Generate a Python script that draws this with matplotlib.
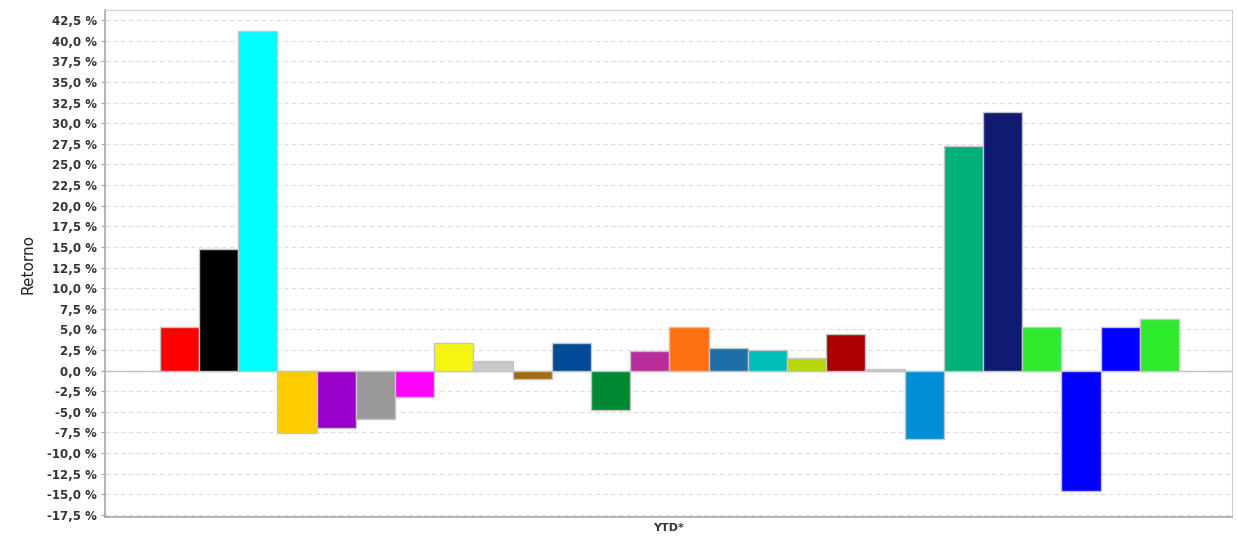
import numpy as np
import matplotlib.pyplot as plt
from matplotlib.ticker import FuncFormatter, MultipleLocator

# YTD returns (%) per fund, left to right
returns = [5.3, 14.8, 41.2, -7.6, -7.0, -5.9, -3.2, 3.3, 1.2, -1.0, 3.3, -4.8, 2.4,
           5.3, 2.7, 2.5, 1.5, 4.5, 0.2, -8.3, 27.2, 31.3, 5.3, -14.6, 5.3, 6.2]
colors = ["#ff0000", "#000000", "#00ffff", "#ffcc00", "#9900cc", "#999999", "#ff00ff",
          "#f5f511", "#c8c8c8", "#a86a10", "#004a99", "#008833", "#b82d99", "#ff7010",
          "#1e6fa8", "#00bfb8", "#b8d80a", "#aa0000", "#d0d0d0", "#008ed6", "#00b07a",
          "#0f1a73", "#2eeb2e", "#0000ff", "#0000ff", "#2eeb2e"]
category = "YTD*"

fig = plt.figure(figsize=(12.38, 5.36), dpi=100)
ax = fig.add_axes([0.0848, 0.0354, 0.9102, 0.9456])

x = np.arange(len(returns))
ax.bar(x, returns, width=1.0, color=colors, edgecolor="#c4c4c4", linewidth=1.0, zorder=3)

ax.axhline(0, color="#c0c0c0", linewidth=1.0, zorder=2)
ax.set_xlim(-1.9, len(returns) + 0.85)
ax.set_ylim(-17.75, 43.7)
ax.yaxis.set_major_locator(MultipleLocator(2.5))
ax.yaxis.set_major_formatter(FuncFormatter(lambda v, p: f"{v:.1f} %".replace(".", ",")))
ax.grid(axis="y", color="#dcdcdc", linestyle=(0, (4, 3)), linewidth=0.8, zorder=0)
ax.set_xticks([])

for side in ["top", "right"]:
    ax.spines[side].set_color("#d0d0d0")
for side in ["left", "bottom"]:
    ax.spines[side].set_color("#a8a8a8")
    ax.spines[side].set_linewidth(1.2)

ax.tick_params(axis="y", length=3, color="#a8a8a8", labelsize=8.5, pad=3)
for lbl in ax.get_yticklabels():
    lbl.set_fontweight("bold")
    lbl.set_color("#333333")

ax.set_ylabel("Retorno", fontsize=11, color="#222222", labelpad=8)
ax.set_xlabel(category, fontsize=8, fontweight="bold", color="#333333", labelpad=4)

plt.savefig("out.png", dpi=100)
